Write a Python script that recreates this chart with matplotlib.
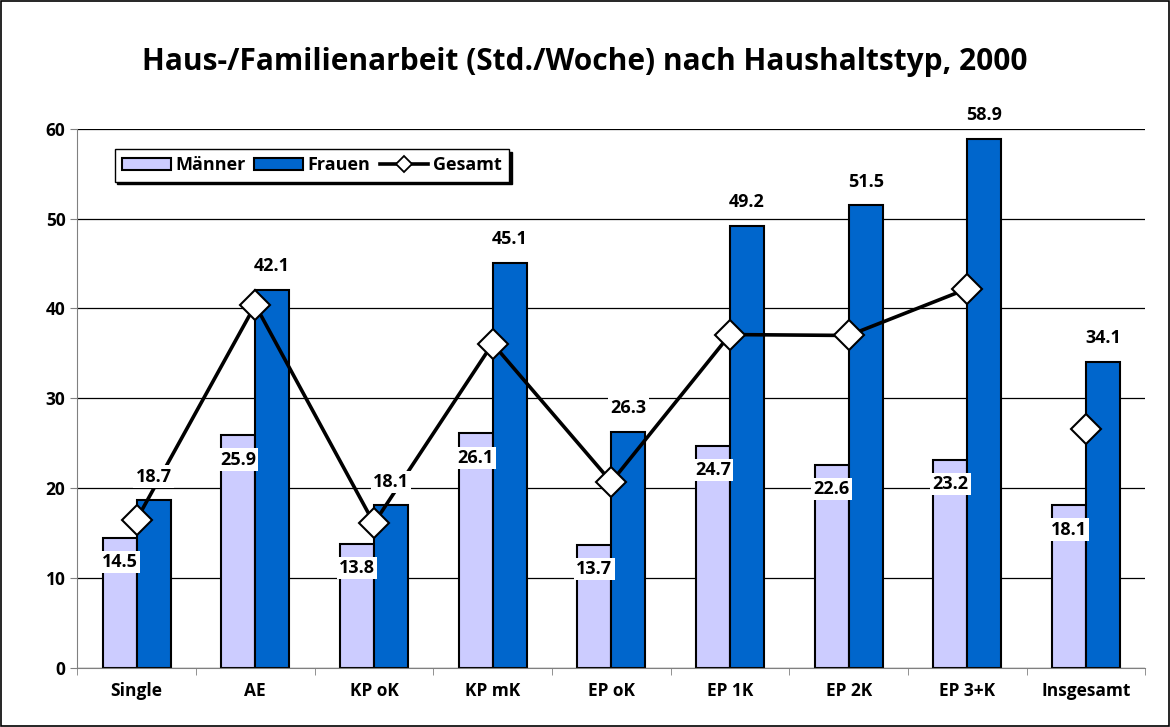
import numpy as np
import matplotlib.pyplot as plt
from matplotlib.patches import Rectangle

# ---------------------------
# DATOS
# ---------------------------
kategorien = ["Single", "AE", "KP oK", "KP mK", "EP oK", "EP 1K", "EP 2K", "EP 3+K", "Insgesamt"]
maenner = [14.5, 25.9, 13.8, 26.1, 13.7, 24.7, 22.6, 23.2, 18.1]
frauen = [18.7, 42.1, 18.1, 45.1, 26.3, 49.2, 51.5, 58.9, 34.1]
gesamt = [16.5, 40.4, 16.1, 36.1, 20.7, 37.1, 37.0, 42.2, 26.6]

titel = "Haus-/Familienarbeit (Std./Woche) nach Haushaltstyp, 2000"

plt.rcParams["font.family"] = ["Open Sans", "DejaVu Sans"]
plt.rcParams["font.weight"] = "bold"

fig = plt.figure(figsize=(11.7, 7.27), dpi=100)
ax = fig.add_axes([0.066, 0.081, 0.913, 0.742])

# Rahmen um die ganze Grafik
fig.patches.append(Rectangle((0.001, 0.001), 0.998, 0.997, transform=fig.transFigure,
                             fill=False, edgecolor="black", linewidth=1.2))

x = np.arange(len(kategorien))
breite = 0.286

b1 = ax.bar(x - breite / 2, maenner, breite, color="#CCCCFF", edgecolor="black",
            linewidth=1.5, label="Männer", zorder=2)
b2 = ax.bar(x + breite / 2, frauen, breite, color="#0066CC", edgecolor="black",
            linewidth=1.5, label="Frauen", zorder=2)

# Gesamt-Linie (ohne Verbindung zu "Insgesamt")
ax.plot(x[:-1], gesamt[:-1], color="black", linewidth=2.6, zorder=3)
ax.plot(x, gesamt, linestyle="none", marker="D", markersize=15,
        markerfacecolor="white", markeredgecolor="black", markeredgewidth=1.5, zorder=4)
# Dummy für die Legende
l1, = ax.plot([], [], color="black", linewidth=2.6, marker="D", markersize=8,
              markerfacecolor="white", markeredgecolor="black", markeredgewidth=1.3, label="Gesamt")

box = dict(facecolor="white", edgecolor="none", pad=1.5)
for i in range(len(kategorien)):
    ax.text(x[i] - breite / 2, maenner[i] - 2.7, f"{maenner[i]:.1f}", ha="center", va="center",
            fontsize=13, fontweight="bold", bbox=box, zorder=5)
    ax.text(x[i] + breite / 2, frauen[i] + 2.6, f"{frauen[i]:.1f}", ha="center", va="center",
            fontsize=13, fontweight="bold", bbox=box, zorder=5)

ax.set_xlim(-0.5, len(kategorien) - 0.5)
ax.set_ylim(0, 60)
ax.set_yticks(range(0, 61, 10))
ax.set_xticks(x)
ax.set_xticklabels(kategorien, fontsize=12.5, fontweight="bold")
ax.set_xticks(np.arange(-0.5, len(kategorien), 1), minor=True)
ax.tick_params(axis="x", which="major", length=0, pad=10)
ax.tick_params(axis="x", which="minor", length=5, color="grey")
ax.tick_params(axis="y", length=5, color="grey", labelsize=12.5)
for lbl in ax.get_yticklabels():
    lbl.set_fontweight("bold")

ax.grid(axis="y", color="black", linewidth=0.9, zorder=0)
ax.set_axisbelow(True)
for s in ["top", "right"]:
    ax.spines[s].set_visible(False)
ax.spines["left"].set_color("grey")
ax.spines["bottom"].set_color("grey")

leg = ax.legend(handles=[b1, b2, l1], loc="upper left", bbox_to_anchor=(0.035, 0.962), ncol=3,
                frameon=True, fancybox=False, shadow={"color": "black", "alpha": 1},
                edgecolor="black", fontsize=13, handlelength=2.7, handletextpad=0.25,
                columnspacing=0.5, borderpad=0.4, borderaxespad=0, framealpha=1)
leg.get_frame().set_linewidth(1.0)
for t in leg.get_texts():
    t.set_fontweight("bold")

fig.text(0.5, 0.915, titel, ha="center", va="center", fontsize=21.5, fontweight="bold")

fig.savefig("out.png", dpi=100)
